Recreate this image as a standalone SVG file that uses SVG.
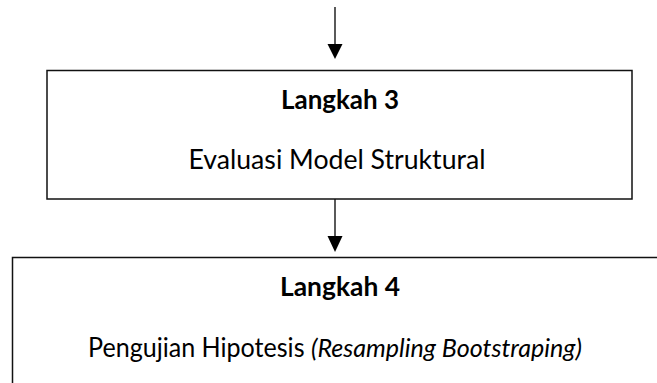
<svg xmlns="http://www.w3.org/2000/svg" width="657" height="383" viewBox="0 0 657 383">
<style>
.box{fill:#fff;stroke:#111;stroke-width:1.5}
.ln{stroke:#000;stroke-width:1.3;fill:none}
.hd{fill:#000}
.t{font-family:Lato,"Open Sans","Liberation Sans",sans-serif;font-size:26px;fill:#000;text-anchor:middle}
.b{font-weight:bold}
.i{font-style:italic}
</style>
<rect width="657" height="383" fill="#fff"/>
<g id="connectors">
<line class="ln" x1="335" y1="7" x2="335" y2="46"/>
<polygon class="hd" points="327.5,44 342.5,44 335,59"/>
<line class="ln" x1="335" y1="199" x2="335" y2="238"/>
<polygon class="hd" points="327.5,236 342.5,236 335,252"/>
</g>
<g id="step3">
<rect class="box" x="47" y="70.5" width="585" height="128.5"/>
<text class="t b" x="340" y="109" textLength="118" lengthAdjust="spacingAndGlyphs">Langkah 3</text>
<text class="t" x="337" y="169" textLength="297" lengthAdjust="spacingAndGlyphs">Evaluasi Model Struktural</text>
</g>
<g id="step4">
<rect class="box" x="12.5" y="257.5" width="700" height="200"/>
<text class="t b" x="340" y="296" textLength="120" lengthAdjust="spacingAndGlyphs">Langkah 4</text>
<text class="t" x="335" y="357" textLength="494" lengthAdjust="spacingAndGlyphs">Pengujian Hipotesis <tspan class="i">(Resampling Bootstraping)</tspan></text>
</g>
</svg>
